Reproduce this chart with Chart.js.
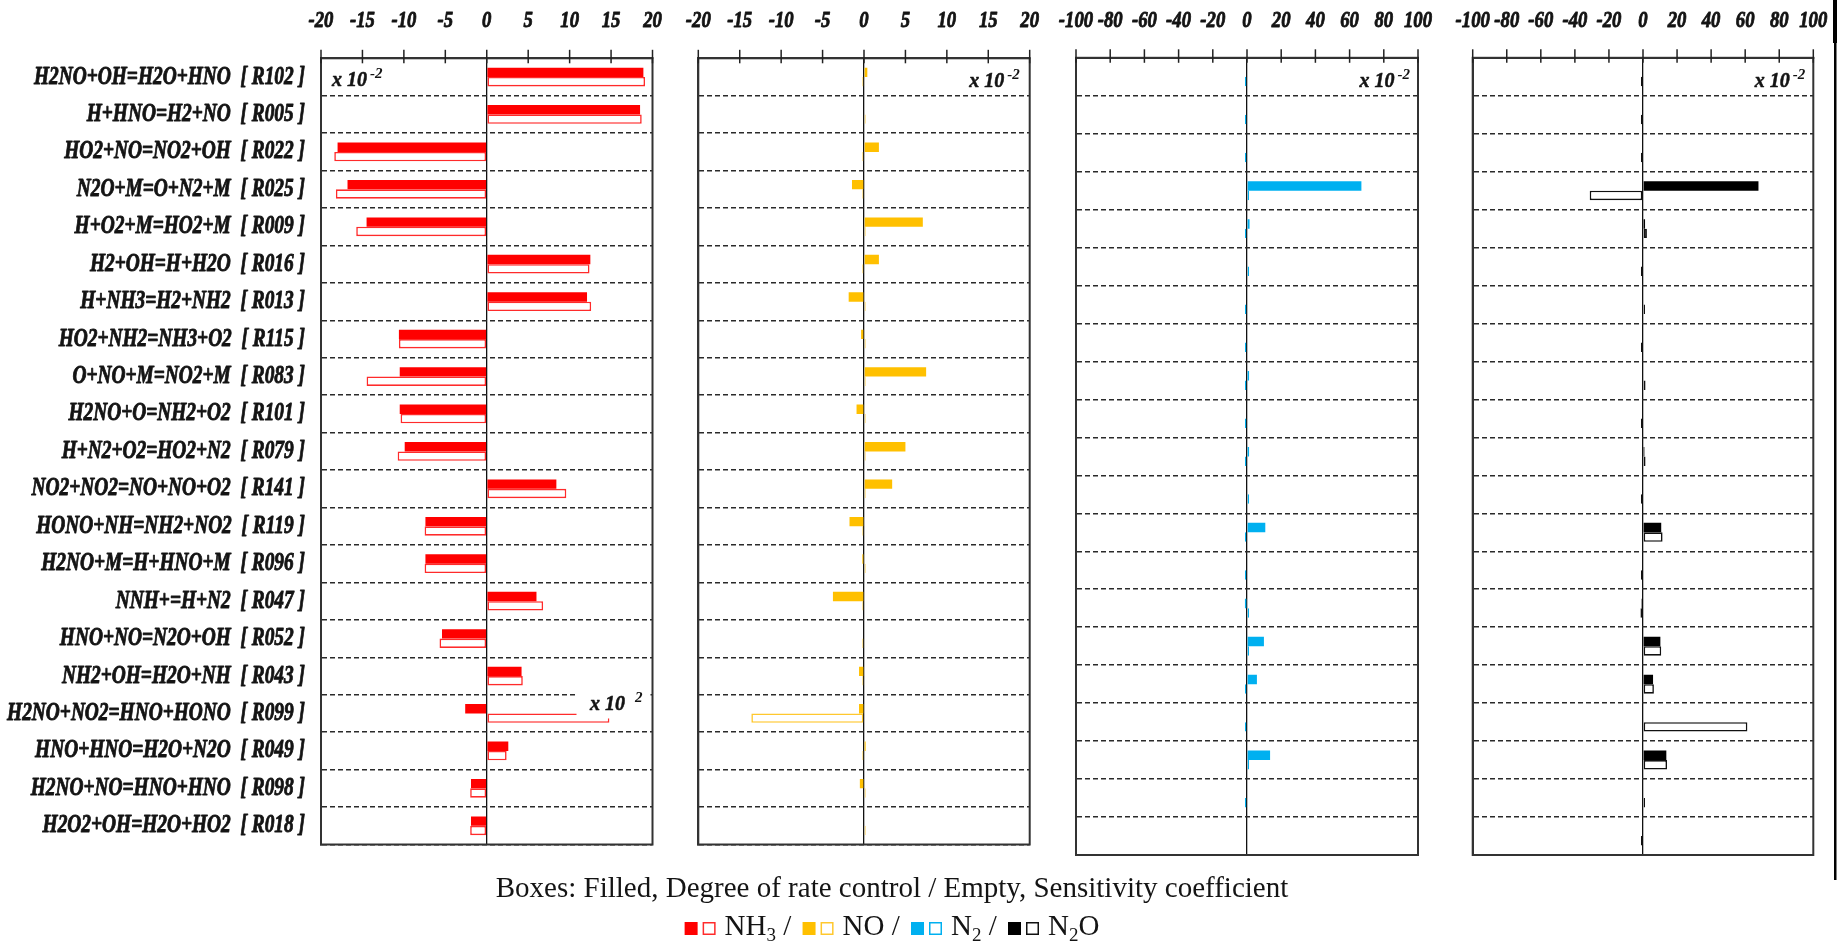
<!DOCTYPE html>
<html>
<head>
<meta charset="utf-8">
<title>Degree of rate control and sensitivity coefficients</title>
<script src="https://cdn.jsdelivr.net/npm/chart.js@4.4.1/dist/chart.umd.min.js"></script>
<style>
  html, body { margin: 0; padding: 0; background: #fff; overflow: hidden; }
  #wrap { position: relative; width: 1845px; height: 941px; }
  #wrap canvas { position: absolute; left: 0; top: 0; }
</style>
</head>
<body>
<div id="wrap">
  <canvas id="pNH3" width="1845" height="941"></canvas>
  <canvas id="pNO" width="1845" height="941"></canvas>
  <canvas id="pN2" width="1845" height="941"></canvas>
  <canvas id="pN2O" width="1845" height="941"></canvas>
</div>
<script>
// ---- reactions (rows, top to bottom) ----
const reactions = [
  'H2NO+OH=H2O+HNO  [ R102 ]',
  'H+HNO=H2+NO  [ R005 ]',
  'HO2+NO=NO2+OH  [ R022 ]',
  'N2O+M=O+N2+M  [ R025 ]',
  'H+O2+M=HO2+M  [ R009 ]',
  'H2+OH=H+H2O  [ R016 ]',
  'H+NH3=H2+NH2  [ R013 ]',
  'HO2+NH2=NH3+O2  [ R115 ]',
  'O+NO+M=NO2+M  [ R083 ]',
  'H2NO+O=NH2+O2  [ R101 ]',
  'H+N2+O2=HO2+N2  [ R079 ]',
  'NO2+NO2=NO+NO+O2  [ R141 ]',
  'HONO+NH=NH2+NO2  [ R119 ]',
  'H2NO+M=H+HNO+M  [ R096 ]',
  'NNH+=H+N2  [ R047 ]',
  'HNO+NO=N2O+OH  [ R052 ]',
  'NH2+OH=H2O+NH  [ R043 ]',
  'H2NO+NO2=HNO+HONO  [ R099 ]',
  'HNO+HNO=H2O+N2O  [ R049 ]',
  'H2NO+NO=HNO+HNO  [ R098 ]',
  'H2O2+OH=H2O+HO2  [ R018 ]'
];

// ---- values, x 10^-2 (filled = degree of rate control, empty = sensitivity coefficient) ----
const nh3Drc = [18.9, 18.5, -18.0, -16.8, -14.5, 12.5, 12.1, -10.6, -10.5, -10.5, -9.9, 8.4, -7.4, -7.4, 6.0, -5.4, 4.2, -2.6, 2.6, -1.9, -1.9];
const nh3Sc  = [19.1, 18.7, -18.4, -18.2, -15.75, 12.4, 12.6, -10.6, -14.5, -10.4, -10.75, 9.6, -7.5, -7.5, 6.8, -5.7, 4.35, 14.8, 2.4, -2.0, -2.0];

const noDrc = [0.4, 0, 1.8, -1.45, 7.1, 1.8, -1.85, -0.35, 7.5, -0.9, 5.0, 3.4, -1.75, -0.2, -3.75, 0, -0.6, -0.6, 0.2, -0.5, 0];
const noSc  = [-0.2, 0.2, -0.2, -0.2, 0.2, -0.2, 0.2, 0.2, 0.2, 0.2, 0.2, 0.2, -0.2, 0.2, -0.2, -0.2, -0.2, -13.6, -0.2, 0.2, 0.2];

const n2Drc = [0, 0, 0, 66.9, 1.5, 0, 0, 0, 1.2, 0, 1.2, 0, 10.7, 0, -1.2, 9.9, 5.8, 0, 13.5, 0, 0];
const n2Sc  = [-1.2, -1.2, -1.2, 1.2, -1.2, 1.2, -1.2, -1.2, -1.2, -1.2, -1.2, 1.2, -1.2, -1.2, 1.2, 1.2, -1.2, -1.2, 1.2, -1.2, 0];

const n2oDrc = [0, 0, 0, 67.8, 1.2, 0, 0, 0, 0, 0, 0.8, 0, 10.7, 0, -0.8, 10.2, 5.9, 0, 13.7, 0, 0];
const n2oSc  = [-1.2, -1.2, -1.2, -31.3, 2.3, -1.2, 1.2, -1.2, 1.5, -1.2, 1.5, -1.2, 11.5, -1.2, -1.5, 10.7, 6.4, 61.3, 14.1, 1.2, -1.2];

// ---- axis tick labels ----
const ticksNarrow = [-20, -15, -10, -5, 0, 5, 10, 15, 20];
const ticksWide = [-100, -80, -60, -40, -20, 0, 20, 40, 60, 80, 100];

// ---- legend ----
const legendTitle = 'Boxes: Filled, Degree of rate control / Empty, Sensitivity coefficient';
const legendSpecies = [
  [['NH', 0], ['3', 1]],
  [['NO', 0]],
  [['N', 0], ['2', 1]],
  [['N', 0], ['2', 1], ['O', 0]]
];
const speciesFill = ['#FF0000', '#FFC000', '#00B0F0', '#000000'];
const speciesEdge = ['#FF2B2B', '#FFC82E', '#00B0F0', '#111111'];

// ---------------------------------------------------------------
const W = 1845, H = 941;
const SERIF = '"Liberation Serif", "Times New Roman", serif';
const LABEL_FONT = 'italic bold 25px ' + SERIF;
const TICK_FONT = 'italic bold 24px ' + SERIF;
const NOTE_FONT = 'italic bold 20px ' + SERIF;
const NOTE_SUP_FONT = 'italic bold 15px ' + SERIF;
const INK = '#141414';

// horizontally condensed, slightly heavy text
function squeezeText(ctx, str, x, y, font, align, sx, color) {
  ctx.save();
  ctx.translate(x, y);
  ctx.scale(sx, 1);
  ctx.font = font;
  ctx.textAlign = align;
  ctx.textBaseline = 'alphabetic';
  ctx.fillStyle = color;
  ctx.strokeStyle = color;
  ctx.lineWidth = 0.9;
  ctx.lineJoin = 'round';
  ctx.fillText(str, 0, 0);
  ctx.strokeText(str, 0, 0);
  ctx.restore();
}

// "x 10" followed by a raised exponent
function drawPower(ctx, x, baseline, exp, align, gap) {
  ctx.save();
  ctx.font = NOTE_FONT;
  const wMain = ctx.measureText('x 10').width;
  ctx.font = NOTE_SUP_FONT;
  const wSup = ctx.measureText(exp).width;
  const start = align === 'right' ? x - (wMain + gap + wSup) : x;
  ctx.fillStyle = INK;
  ctx.strokeStyle = INK;
  ctx.lineWidth = 0.5;
  ctx.textAlign = 'left';
  ctx.textBaseline = 'alphabetic';
  ctx.font = NOTE_FONT;
  ctx.fillText('x 10', start, baseline);
  ctx.strokeText('x 10', start, baseline);
  ctx.font = NOTE_SUP_FONT;
  ctx.fillText(exp, start + wMain + gap, baseline - 8);
  ctx.restore();
}

const panelDecor = {
  id: 'panelDecor',
  afterDatasetsDraw(chart, args, o) {
    const { ctx, chartArea: a } = chart;
    const xs = chart.scales.x, ys = chart.scales.y;
    (o.callouts || []).forEach(c => {
      const yc = ys.getPixelForValue(c.row);
      const x0 = xs.getPixelForValue(c.from);
      ctx.save();
      ctx.fillStyle = '#fff';
      ctx.fillRect(x0, yc + c.boxTop, a.right - 2 - x0, c.boxBottom - c.boxTop);
      ctx.restore();
      drawPower(ctx, x0 + c.dx, yc + c.dy, c.exp, 'left', c.gap);
    });
    if (o.scaleNote) {
      const n = o.scaleNote;
      const x = n.align === 'right' ? a.right - n.inset : a.left + n.inset;
      drawPower(ctx, x, a.top + n.dy, '-2', n.align, 3);
    }
  },
  afterDraw(chart, args, o) {
    const { ctx, chartArea: a } = chart;
    const xs = chart.scales.x, ys = chart.scales.y;
    ctx.save();
    // frame
    ctx.strokeStyle = '#333';
    ctx.lineWidth = 2;
    ctx.strokeRect(a.left, a.top, a.right - a.left, a.bottom - a.top);
    // top tick marks and labels
    ctx.strokeStyle = '#222';
    ctx.lineWidth = 1.5;
    xs.ticks.forEach(t => {
      const x = xs.getPixelForValue(t.value);
      ctx.beginPath();
      ctx.moveTo(x, a.top - 8.5);
      ctx.lineTo(x, a.top + 5);
      ctx.stroke();
      squeezeText(ctx, String(t.value), x, 26.5, TICK_FONT, 'center', 0.78, INK);
    });
    ctx.restore();
    // reaction names
    if (o.rowLabels) {
      reactions.forEach((name, i) => {
        const y = ys.getPixelForValue(i);
        squeezeText(ctx, name, o.rowLabelsRight, y + 6.5, LABEL_FONT, 'right', 0.775, INK);
      });
    }
  }
};

// page-wide notes: legend lines and the right-hand rule
const pageNotes = {
  id: 'pageNotes',
  afterDraw(chart) {
    const ctx = chart.ctx;
    ctx.save();
    ctx.fillStyle = '#000';
    ctx.fillRect(1833, 0, 4, 43);
    ctx.fillRect(1834, 43, 2.5, 837);

    ctx.fillStyle = INK;
    ctx.textBaseline = 'alphabetic';
    ctx.font = '29px ' + SERIF;
    ctx.textAlign = 'center';
    ctx.fillText(legendTitle, 892, 897);

    // second line: filled/empty boxes with species names
    const mainFont = '29px ' + SERIF, subFont = '19px ' + SERIF;
    const base = 935, sq = 13, sqGap = 5, txtGap = 9, sep = ' / ', sepGap = 4;
    ctx.textAlign = 'left';
    const widthOf = (s, sub) => { ctx.font = sub ? subFont : mainFont; return ctx.measureText(s).width; };
    let total = 0;
    legendSpecies.forEach((parts, i) => {
      total += sq + sqGap + sq + txtGap;
      parts.forEach(p => total += widthOf(p[0], p[1]));
      if (i < legendSpecies.length - 1) total += widthOf(sep, 0) + sepGap;
    });
    let x = 892 - total / 2;
    legendSpecies.forEach((parts, i) => {
      ctx.fillStyle = speciesFill[i];
      ctx.fillRect(x, base - sq, sq, sq);
      x += sq + sqGap;
      ctx.strokeStyle = speciesEdge[i];
      ctx.lineWidth = 1.5;
      ctx.strokeRect(x + 0.75, base - sq + 0.75, sq - 1.5, sq - 1.5);
      x += sq + txtGap;
      ctx.fillStyle = INK;
      parts.forEach(p => {
        ctx.font = p[1] ? subFont : mainFont;
        ctx.fillText(p[0], x, p[1] ? base + 6 : base);
        x += ctx.measureText(p[0]).width;
      });
      if (i < legendSpecies.length - 1) {
        ctx.font = mainFont;
        ctx.fillText(sep, x, base);
        x += ctx.measureText(sep).width + sepGap;
      }
    });
    ctx.restore();
  }
};

function makePanel(id, cfg) {
  const plugins = [panelDecor];
  if (cfg.page) plugins.push(pageNotes);
  return new Chart(document.getElementById(id), {
    type: 'bar',
    data: {
      labels: reactions,
      datasets: [
        { data: cfg.drc, backgroundColor: cfg.fill, borderWidth: 0 },
        { data: cfg.sc, backgroundColor: '#ffffff', borderColor: cfg.edge, borderWidth: 1.6 }
      ]
    },
    options: {
      indexAxis: 'y',
      responsive: false,
      animation: false,
      devicePixelRatio: 1,
      events: [],
      layout: { padding: { left: cfg.left, right: W - cfg.right, top: cfg.top, bottom: H - cfg.bottom } },
      datasets: { bar: { categoryPercentage: 0.5, barPercentage: 1, borderSkipped: false } },
      plugins: {
        legend: { display: false },
        tooltip: { enabled: false },
        panelDecor: {
          rowLabels: !!cfg.rowLabels,
          rowLabelsRight: 305,
          scaleNote: cfg.scaleNote,
          callouts: cfg.callouts || []
        }
      },
      scales: {
        x: {
          position: 'top',
          min: cfg.ticks[0],
          max: cfg.ticks[cfg.ticks.length - 1],
          afterBuildTicks: s => { s.ticks = cfg.ticks.map(v => ({ value: v })); },
          ticks: { display: false },
          grid: {
            drawTicks: false,
            color: c => (c.tick && c.tick.value === 0) ? '#111' : 'rgba(0,0,0,0)',
            lineWidth: 1.3
          },
          border: { display: true, color: '#333', width: 2 }
        },
        y: {
          ticks: { display: false },
          grid: { drawTicks: false, offset: true, color: '#2a2a2a', lineWidth: 1.6 },
          border: { display: true, color: '#333', width: 2, dash: [5, 3] }
        }
      }
    },
    plugins: plugins
  });
}

makePanel('pNH3', {
  drc: nh3Drc, sc: nh3Sc, fill: speciesFill[0], edge: speciesEdge[0], ticks: ticksNarrow,
  left: 321, right: 652.5, top: 58.3, bottom: 844.5, rowLabels: true, page: true,
  scaleNote: { align: 'left', inset: 11, dy: 28 },
  callouts: [{ row: 17, from: 10.83, dx: 13.5, dy: -3.5, boxTop: -25, boxBottom: 5, exp: '2', gap: 10 }]
});
makePanel('pNO', {
  drc: noDrc, sc: noSc, fill: speciesFill[1], edge: speciesEdge[1], ticks: ticksNarrow,
  left: 698.3, right: 1029.7, top: 58.3, bottom: 844.5,
  scaleNote: { align: 'right', inset: 10, dy: 28.5 }
});
makePanel('pN2', {
  drc: n2Drc, sc: n2Sc, fill: speciesFill[2], edge: speciesEdge[2], ticks: ticksWide,
  left: 1076, right: 1418, top: 57.8, bottom: 855,
  scaleNote: { align: 'right', inset: 8, dy: 29 }
});
makePanel('pN2O', {
  drc: n2oDrc, sc: n2oSc, fill: speciesFill[3], edge: speciesEdge[3], ticks: ticksWide,
  left: 1472.7, right: 1813.3, top: 57.8, bottom: 855,
  scaleNote: { align: 'right', inset: 8, dy: 29 }
});
</script>
</body>
</html>
